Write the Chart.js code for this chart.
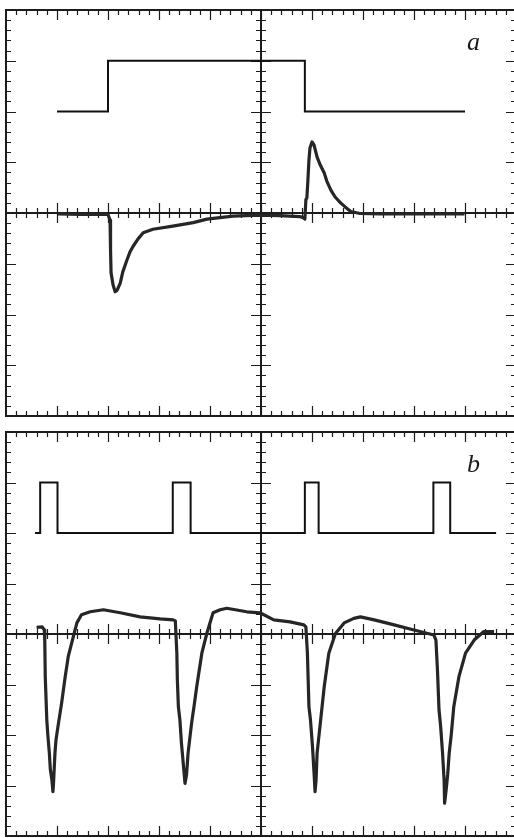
<!DOCTYPE html>
<html>
<head>
<meta charset="utf-8">
<script src="https://cdn.jsdelivr.net/npm/chart.js@4"></script>
<style>
  html, body { margin: 0; padding: 0; background: #fff; overflow: hidden; width: 514px; height: 838px; }
  .wrap { position: absolute; left: 0; }
  .lbl { position: absolute; font: italic 26px "Liberation Serif", "DejaVu Serif", serif; line-height: 26px; color: #1a1a1a; }
</style>
</head>
<body>
<div class="wrap" style="top:0"><canvas id="chartA" width="520" height="424"></canvas></div>
<div class="wrap" style="top:424px"><canvas id="chartB" width="520" height="414"></canvas></div>
<span class="lbl" style="left:467px; top:29px;">a</span>
<span class="lbl" style="left:467px; top:451px;">b</span>
<script>
// ---- graticule (screen divisions) ----
const xDivisions = [0, 10];     // horizontal range in divisions
const yDivisions = [-4, 4];     // vertical range in divisions
const minorPerDiv = 5;

// ---- panel a : control pulse ----
const sqA_x = [1.0, 2.0, 2.0, 5.86, 5.86, 9.0];
const sqA_y = [2, 2, 3, 3, 2, 2];

// ---- panel a : response ----
const respA_x = [1.02, 1.45, 2.0, 2.04, 2.05, 2.06, 2.10, 2.14, 2.18, 2.24, 2.29, 2.37, 2.43, 2.49, 2.59, 2.69, 2.88, 3.27, 3.67, 3.94, 4.45, 4.98, 5.37, 5.76, 5.84, 5.86,
                 5.88, 5.90, 5.92, 5.94, 5.96, 6.00, 6.04, 6.10, 6.16, 6.24, 6.29, 6.37, 6.45, 6.56, 6.65, 6.76, 6.94, 7.33, 8.12, 8.99];
const respA_y = [-0.02, -0.03, -0.03, -0.14, -0.73, -1.18, -1.42, -1.55, -1.52, -1.38, -1.16, -0.93, -0.77, -0.66, -0.51, -0.39, -0.32, -0.26, -0.19, -0.12, -0.06, -0.04, -0.05, -0.07, -0.10, -0.12,
                 0.26, 0.30, 0.65, 1.04, 1.28, 1.40, 1.34, 1.10, 0.95, 0.79, 0.63, 0.45, 0.32, 0.20, 0.12, 0.03, -0.01, -0.02, -0.02, -0.02];

// ---- panel b : control pulses ----
const sqB_x = [0.57, 0.67, 0.67, 1.01, 1.01, 3.27, 3.27, 3.62, 3.62, 5.86, 5.86, 6.13, 6.13, 8.38, 8.38, 8.71, 8.71, 9.61];
const sqB_y = [2, 2, 3, 3, 2, 2, 3, 3, 2, 2, 3, 3, 2, 2, 3, 3, 2, 2];

// ---- panel b : response ----
const respB_x = [0.60, 0.71, 0.75, 0.76, 0.77, 0.80, 0.82, 0.85, 0.87, 0.90, 0.92, 0.93, 0.96, 0.98, 1.03, 1.09, 1.16, 1.22, 1.32, 1.39, 1.48, 1.65, 1.91, 2.24, 2.63, 3.02, 3.28,
                 3.32, 3.35, 3.36, 3.38, 3.41, 3.44, 3.47, 3.51, 3.54, 3.57, 3.64, 3.69, 3.74, 3.84, 3.94, 4.06, 4.20, 4.33, 4.72, 4.98, 5.25, 5.57, 5.84,
                 5.88, 5.91, 5.94, 5.97, 6.01, 6.04, 6.06, 6.08, 6.10, 6.17, 6.24, 6.33, 6.46, 6.63, 6.82, 6.95, 7.22, 7.61, 8.00, 8.39,
                 8.43, 8.46, 8.49, 8.52, 8.56, 8.59, 8.60, 8.63, 8.66, 8.69, 8.73, 8.78, 8.88, 9.01, 9.18, 9.37, 9.57];
const respB_y = [0.13, 0.14, 0.08, -0.12, -0.85, -1.70, -2.00, -2.36, -2.69, -2.89, -3.12, -2.99, -2.36, -2.10, -1.76, -1.37, -0.85, -0.45, -0.05, 0.22, 0.38, 0.44, 0.48, 0.42, 0.34, 0.30, 0.28,
                 0.26, -0.38, -0.91, -1.44, -1.70, -2.16, -2.50, -2.96, -2.79, -2.36, -1.76, -1.41, -1.04, -0.38, 0.02, 0.42, 0.48, 0.51, 0.44, 0.42, 0.28, 0.24, 0.18,
                 0.14, -0.38, -1.44, -1.70, -2.23, -2.75, -3.12, -2.89, -2.36, -1.70, -1.04, -0.38, 0.01, 0.22, 0.31, 0.34, 0.28, 0.18, 0.08, -0.02,
                 -0.12, -0.71, -1.50, -1.80, -2.36, -2.89, -3.35, -3.09, -2.79, -2.36, -2.00, -1.44, -0.85, -0.38, -0.12, 0.05, 0.05];

function pts(xs, ys) { return xs.map((x, i) => ({ x: x, y: ys[i] })); }

const graticule = {
  id: 'graticule',
  beforeDatasetsDraw(chart) {
    const { ctx, chartArea: a, scales: { x, y } } = chart;
    const ink = '#1c1c1c';
    ctx.save();
    ctx.strokeStyle = ink;
    // outer frame
    ctx.lineWidth = 2;
    ctx.strokeRect(a.left, a.top, a.right - a.left, a.bottom - a.top);
    // centre cross
    const cx = x.getPixelForValue((xDivisions[0] + xDivisions[1]) / 2);
    const cy = y.getPixelForValue((yDivisions[0] + yDivisions[1]) / 2);
    ctx.beginPath();
    ctx.moveTo(a.left, cy); ctx.lineTo(a.right, cy);
    ctx.moveTo(cx, a.top); ctx.lineTo(cx, a.bottom);
    ctx.stroke();
    // ticks
    ctx.lineWidth = 1.2;
    ctx.beginPath();
    const nx = (xDivisions[1] - xDivisions[0]) * minorPerDiv;
    for (let i = 1; i < nx; i++) {
      const v = xDivisions[0] + i / minorPerDiv;
      const px = Math.round(x.getPixelForValue(v)) + 0.5;
      const L = (i % minorPerDiv === 0) ? 10 : 5;
      ctx.moveTo(px, a.top); ctx.lineTo(px, a.top + L);
      ctx.moveTo(px, a.bottom); ctx.lineTo(px, a.bottom - L);
      ctx.moveTo(px, cy - L); ctx.lineTo(px, cy + L);
    }
    const ny = (yDivisions[1] - yDivisions[0]) * minorPerDiv;
    for (let i = 1; i < ny; i++) {
      const v = yDivisions[0] + i / minorPerDiv;
      const py = Math.round(y.getPixelForValue(v)) + 0.5;
      const L = (i % minorPerDiv === 0) ? 10 : 5;
      ctx.moveTo(a.left, py); ctx.lineTo(a.left + L, py);
      ctx.moveTo(a.right, py); ctx.lineTo(a.right - L, py);
      ctx.moveTo(cx - L, py); ctx.lineTo(cx + L, py);
    }
    ctx.stroke();
    ctx.restore();
  }
};

function makeChart(id, pad, sqX, sqY, rX, rY) {
  return new Chart(document.getElementById(id), {
    type: 'line',
    data: {
      datasets: [
        { data: pts(sqX, sqY), borderColor: '#111', borderWidth: 2, pointRadius: 0, tension: 0, fill: false, borderJoinStyle: 'miter' },
        { data: pts(rX, rY), borderColor: '#262626', borderWidth: 3.2, pointRadius: 0, tension: 0, fill: false, borderJoinStyle: 'round' }
      ]
    },
    options: {
      responsive: false,
      animation: false,
      devicePixelRatio: 1,
      layout: { padding: pad },
      plugins: { legend: { display: false }, tooltip: { enabled: false } },
      scales: {
        x: { type: 'linear', min: xDivisions[0], max: xDivisions[1], display: false },
        y: { type: 'linear', min: yDivisions[0], max: yDivisions[1], display: false }
      }
    },
    plugins: [graticule]
  });
}

makeChart('chartA', { left: 6, top: 10, right: 4, bottom: 8 }, sqA_x, sqA_y, respA_x, respA_y);
makeChart('chartB', { left: 6, top: 8, right: 4, bottom: 2 }, sqB_x, sqB_y, respB_x, respB_y);
</script>
</body>
</html>
